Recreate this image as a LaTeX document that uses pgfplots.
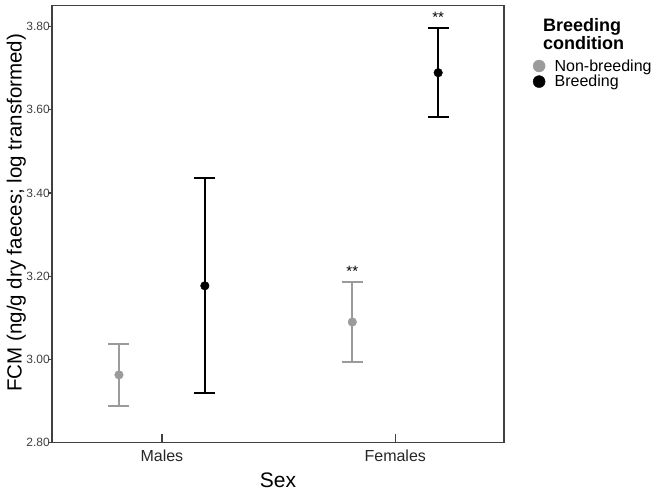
\documentclass[border=0pt]{standalone}
\usepackage{pgfplots}
\pgfplotsset{compat=1.18}
\usepackage{fontspec}
\setmainfont{Liberation Sans}
\definecolor{nbgray}{RGB}{155,155,155}
\definecolor{framegray}{RGB}{64,64,64}

\begin{document}
\begin{tikzpicture}[x=1pt,y=1pt]
	\path[use as bounding box] (0,0) rectangle (664,494);
	\begin{axis}[
		at={(52pt,51.3pt)}, anchor=south west,
		scale only axis,
		width=452pt, height=437pt,
		xmin=0.529, xmax=2.466,
		ymin=2.8, ymax=3.85,
		axis line style={framegray, line width=1.2pt},
		tick align=outside,
		major tick length=3.5pt,
		xtick={1,2},
		xticklabels={Males,Females},
		xtick pos=bottom,
		xtick style={framegray, line width=1.2pt, /pgfplots/major tick length=9pt, yshift=9pt},
		ytick={2.8,3.0,3.2,3.4,3.6,3.8},
		ytick pos=left,
		ytick style={framegray, line width=1.2pt},
		yticklabel style={
			font=\fontsize{12}{12}\selectfont, text=framegray, inner sep=1pt, xshift=2.5pt,
			/pgf/number format/.cd, fixed, fixed zerofill, precision=2,
			assume math mode=true
		},
		xticklabel style={font=\fontsize{16}{16}\selectfont, text=black!85},
		xlabel={Sex},
		xlabel style={at={(rel axis cs:0.5,-0.085)}, anchor=center,
			font=\fontsize{21}{21}\selectfont},
		ylabel={FCM (ng/g dry faeces; log transformed)},
		ylabel style={at={(rel axis cs:-0.079,0.526)}, anchor=center,
			font=\fontsize{20.5}{20.5}\selectfont},
		legend style={
			at={(rel axis cs:1.064,0.882)}, anchor=north west,
			draw=none, fill=none, inner sep=0pt, row sep=-1.5pt,
			font=\fontsize{16}{16}\selectfont,
			cells={anchor=west},
			/tikz/every odd column/.append style={column sep=7.5pt},
		},
		legend image code/.code={\draw[#1] plot coordinates {(0pt,0pt)};},
		clip=false,
	]
		% Non-breeding (mean +- error)
		\addplot[
			forget plot, only marks, mark=*, mark size=4.3pt, color=nbgray,
			error bars/.cd, y dir=both, y explicit, error mark=|,
			error bar style={line width=2pt, nbgray},
			error mark options={nbgray, line width=2pt, mark size=10.5pt},
		] coordinates {
			(0.816,2.963) +- (0,0.075)
			(1.816,3.090) +- (0,0.097)
		};
		% Breeding
		\addplot[
			forget plot, only marks, mark=*, mark size=4.3pt, color=black,
			error bars/.cd, y dir=both, y explicit, error mark=|,
			error bar style={line width=2pt, black},
			error mark options={black, line width=2pt, mark size=10.5pt},
		] coordinates {
			(1.184,3.177) +- (0,0.258)
			(2.184,3.689) +- (0,0.107)
		};
		\addlegendimage{only marks, mark=*, mark size=6pt, nbgray}
		\addlegendentry{Non-breeding}
		\addlegendimage{only marks, mark=*, mark size=6pt, black}
		\addlegendentry{Breeding}
		% significance stars
		\node[font=\fontsize{15}{15}\selectfont] at (axis cs:1.816,3.212) {**};
		\node[font=\fontsize{15}{15}\selectfont] at (axis cs:2.184,3.822) {**};
	\end{axis}
	\node[anchor=north west, align=left, inner sep=0pt,
		font=\bfseries\fontsize{18}{18}\selectfont] at (543,475.5) {Breeding\\condition};
\end{tikzpicture}
\end{document}
